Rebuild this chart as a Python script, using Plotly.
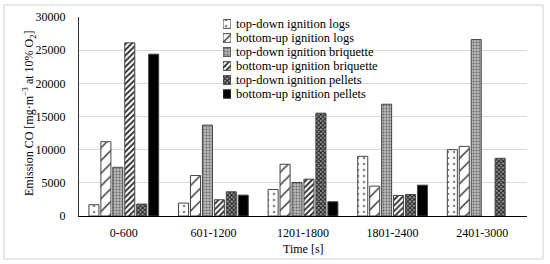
import plotly.graph_objects as go

categories = ["0-600", "601-1200", "1201-1800", "1801-2400", "2401-3000"]
series_names = [
    "top-down ignition logs",
    "bottom-up ignition logs",
    "top-down ignition briquette",
    "bottom-up ignition briquette",
    "top-down ignition pellets",
    "bottom-up ignition pellets",
]
td_logs = [1700, 1950, 4000, 9000, 10000]
bu_logs = [11200, 6100, 7800, 4500, 10500]
td_briquette = [7350, 13700, 5050, 16850, 26600]
bu_briquette = [26100, 2450, 5550, 3100, None]
td_pellets = [1800, 3650, 15500, 3250, 8700]
bu_pellets = [24400, 3150, 2150, 4650, None]
values = [td_logs, bu_logs, td_briquette, bu_briquette, td_pellets, bu_pellets]
y_ticks = [0, 5000, 10000, 15000, 20000, 25000, 30000]

FONT = "Liberation Serif"
patterns = [
    dict(shape=".", bgcolor="white", fgcolor="#8a8a8a", size=6, solidity=0.15, fillmode="replace"),
    dict(shape="/", bgcolor="white", fgcolor="#222222", size=9, solidity=0.14, fillmode="replace"),
    dict(shape=".", bgcolor="#b8b8b8", fgcolor="#6a6a6a", size=3, solidity=0.35, fillmode="replace"),
    dict(shape="/", bgcolor="white", fgcolor="#222222", size=4, solidity=0.45, fillmode="replace"),
    dict(shape="x", bgcolor="#9a9a9a", fgcolor="#1a1a1a", size=3, solidity=0.55, fillmode="replace"),
    dict(shape="", bgcolor="black", fgcolor="black", fillmode="replace"),
]
fills = ["white", "white", "#b8b8b8", "white", "#555555", "black"]

fig = go.Figure()
for name, vals, pat, fc in zip(series_names, values, patterns, fills):
    fig.add_trace(go.Bar(
        x=categories, y=vals, name=name, showlegend=False,
        marker=dict(color=fc, pattern=pat, line=dict(color="#444444", width=1)),
    ))

# manual legend (swatches on a hidden helper axis + text annotations)
for i, (name, pat, fc) in enumerate(zip(series_names, patterns, fills)):
    fig.add_trace(go.Bar(
        x=[1], y=[i], orientation="h", xaxis="x2", yaxis="y2",
        width=0.62, offsetgroup="leg", showlegend=False, hoverinfo="skip",
        marker=dict(color=fc, pattern=pat, line=dict(color="#444444", width=1)),
    ))
    fig.add_annotation(
        text=name, xref="paper", yref="y2", x=0.347, y=i,
        xanchor="left", yanchor="middle", showarrow=False,
        font=dict(family=FONT, size=12.5, color="#000000"),
    )

W, H = 550, 264
L, R, T, B = 79, 23, 17, 48
pw, ph = W - L - R, H - T - B

def px(x):
    return (x - L) / pw

def py(y):
    return (H - B - y) / ph

fig.add_shape(type="rect", xref="paper", yref="paper",
              x0=px(4), x1=px(543), y0=py(259), y1=py(5),
              line=dict(color="#d0d0d0", width=1), fillcolor="rgba(0,0,0,0)", layer="below")

fig.add_annotation(
    text="Emission CO [mg·m<sup>−3</sup> at 10% O<sub>2</sub>]",
    xref="paper", yref="paper", x=px(29), y=py(114), textangle=-90,
    xanchor="center", yanchor="middle", showarrow=False,
    font=dict(family=FONT, size=12, color="#000000"),
)
fig.add_annotation(
    text="Time [s]", xref="paper", yref="paper", x=0.5, y=py(249),
    xanchor="center", yanchor="middle", showarrow=False,
    font=dict(family=FONT, size=12, color="#000000"),
)

fig.update_layout(
    width=W, height=H,
    margin=dict(l=L, r=R, t=T, b=B),
    paper_bgcolor="white", plot_bgcolor="white",
    barmode="group", bargap=0.2, bargroupgap=0.16,
    font=dict(family=FONT, size=12, color="#000000"),
    xaxis=dict(
        type="category", showline=True, linecolor="#000000", linewidth=1,
        ticks="", showgrid=False, ticklabelstandoff=6, automargin=False,
        tickfont=dict(size=12),
    ),
    yaxis=dict(
        range=[0, 30000], tickvals=y_ticks, tickformat="d", showline=True,
        linecolor="#333333", linewidth=1, automargin=False,
        showgrid=True, gridcolor="#d9d9d9", gridwidth=1, zeroline=False, ticks="",
        ticklabelstandoff=10, tickfont=dict(size=12),
    ),
    xaxis2=dict(domain=[px(223), px(231)], range=[0, 1], visible=False, anchor="y2",
                fixedrange=True, automargin=False),
    yaxis2=dict(domain=[py(101), py(17)], range=[5.5, -0.5], visible=False, anchor="x2",
                fixedrange=True, automargin=False),
)

fig.write_html("out.html", config={"displayModeBar": False},
               post_script="document.body.style.margin='0px';")
